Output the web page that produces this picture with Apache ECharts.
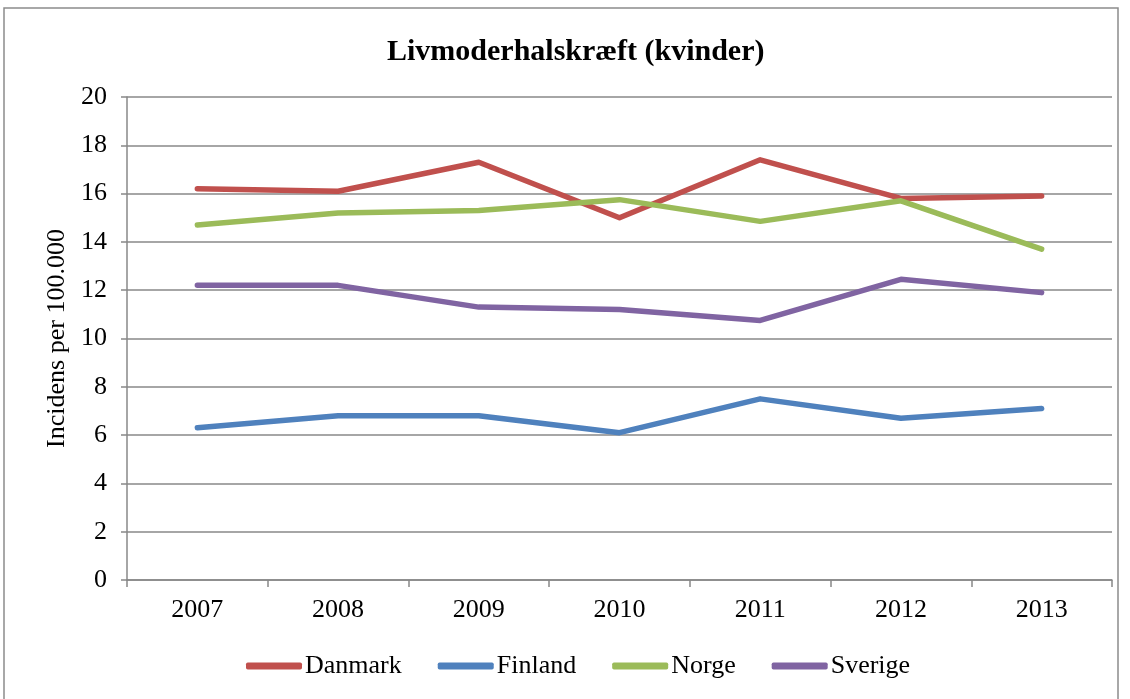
<!DOCTYPE html>
<html>
<head>
<meta charset="utf-8">
<script src="https://cdn.jsdelivr.net/npm/echarts@6/dist/echarts.min.js"></script>
<style>
  html, body { margin: 0; padding: 0; background: #fff; }
  #chart { width: 1130px; height: 699px; }
</style>
</head>
<body>
<div id="chart"></div>
<script>
  // data
  const years = ['2007', '2008', '2009', '2010', '2011', '2012', '2013']
  const danmark = [16.2, 16.1, 17.3, 15.0, 17.4, 15.8, 15.9]
  const finland = [6.3, 6.8, 6.8, 6.1, 7.5, 6.7, 7.1]
  const norge = [14.7, 15.2, 15.3, 15.75, 14.85, 15.7, 13.7]
  const sverige = [12.2, 12.2, 11.3, 11.2, 10.75, 12.45, 11.9]

  const font = '"Liberation Serif", "Times New Roman", serif'
  const gridColor = '#888888'

  function lineSeries (name, data, color) {
    return {
      name: name,
      type: 'line',
      data: data,
      symbol: 'none',
      color: color,
      lineStyle: { width: 5.5, color: color, cap: 'round', join: 'round' }
    }
  }

  let option = {
    animation: false,
    textStyle: { fontFamily: font, color: '#000' },
    title: {
      text: 'Livmoderhalskræft (kvinder)',
      left: 382,
      top: 32,
      textStyle: { fontFamily: font, fontSize: 30, fontWeight: 'bold', color: '#000' }
    },
    graphic: [
      {
        type: 'rect',
        shape: { x: 4, y: 8, width: 1114, height: 720 },
        style: { fill: 'none', stroke: '#8c8c8c', lineWidth: 1.5 },
        silent: true
      }
    ],
    grid: { left: 127, right: 18, top: 97, bottom: 119 },
    legend: {
      top: 648,
      left: 241,
      icon: 'roundRect',
      itemWidth: 56,
      itemHeight: 7,
      itemGap: 36,
      textStyle: { fontFamily: font, fontSize: 26, color: '#000', padding: [0, 0, 0, -2] },
      data: ['Danmark', 'Finland', 'Norge', 'Sverige']
    },
    xAxis: {
      type: 'category',
      data: years,
      boundaryGap: true,
      axisLine: { lineStyle: { color: gridColor, width: 1.5 } },
      axisTick: { show: true, length: 7, lineStyle: { color: gridColor, width: 1.5 } },
      axisLabel: { fontFamily: font, fontSize: 26, color: '#000', margin: 17 }
    },
    yAxis: {
      type: 'value',
      min: 0,
      max: 20,
      interval: 2,
      name: 'Incidens per 100.000',
      nameLocation: 'middle',
      nameGap: 54,
      nameTextStyle: { fontFamily: font, fontSize: 26, color: '#000' },
      axisLine: { show: true, lineStyle: { color: gridColor, width: 1.5 } },
      axisTick: { show: true, length: 6, lineStyle: { color: gridColor, width: 1.5 } },
      axisLabel: { fontFamily: font, fontSize: 26, color: '#000', margin: 20 },
      splitLine: { lineStyle: { color: gridColor, width: 1.5 } }
    },
    series: [
      lineSeries('Danmark', danmark, '#C0504D'),
      lineSeries('Finland', finland, '#4F81BD'),
      lineSeries('Norge', norge, '#9BBB59'),
      lineSeries('Sverige', sverige, '#8064A2')
    ]
  }

  let mychart = echarts.init(document.getElementById('chart'))
  mychart.setOption(option)
</script>
</body>
</html>
